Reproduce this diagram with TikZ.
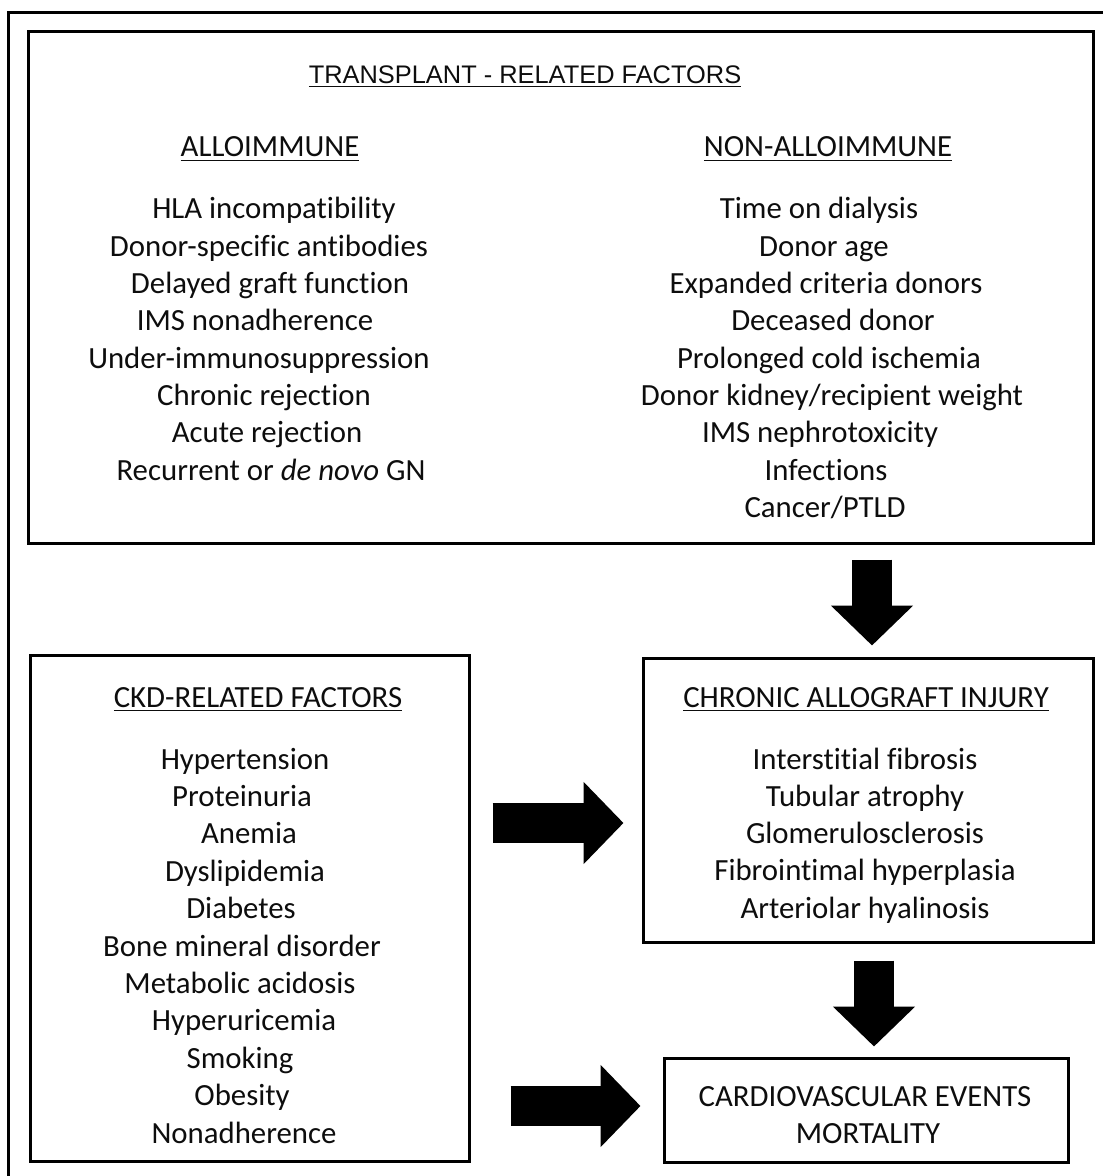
\documentclass[tikz,border=0pt]{standalone}
\usepackage{fontspec}
\setmainfont{Carlito}[Ligatures=NoCommon]
\newfontfamily\arialfont{Liberation Sans}
\usetikzlibrary{
	arrows.meta,
	calc,
	positioning,
	}

\newcommand{\hdr}[1]{\underline{#1}}

\begin{document}
\begin{tikzpicture}[x=0.5pt,y=-0.5pt,
	every node/.style={font=\fontsize{15.4}{18}\selectfont, text=black!95},
	box/.style={draw, line width=1.5pt, inner sep=0pt},
	item/.style={anchor=base, inner sep=0pt},
	fat/.style={line width=20pt, -{Triangle[length=20pt,width=40pt]}}]

	\useasboundingbox (0,0) rectangle (1102,1176);
	\draw[line width=1.5pt] (8,1190) -- (8,13) -- (1115,13);

	% boxes
	\node[box, minimum width=532.5pt, minimum height=255.5pt] (tr) at (560.5,287.5) {};
	\node[box, minimum width=219.5pt, minimum height=253pt] (ckd) at (249.5,908) {};
	\node[box, minimum width=225pt, minimum height=142pt] (cai) at (868,800) {};
	\node[box, minimum width=202pt, minimum height=52pt] (cve) at (866,1110) {};

	% headings
	\node[item, font=\arialfont\fontsize{12.7}{16}\selectfont] (h0) at (525,83.5) {\hdr{TRANSPLANT - RELATED FACTORS}};
	\node[item] (h1) at (270,157) {\hdr{ALLOIMMUNE}};
	\node[item] (h2) at (828,157) {\hdr{NON-ALLOIMMUNE}};
	\node[item] (h3) at (258,707) {\hdr{CKD-RELATED FACTORS}};
	\node[item] (h4) at (866,707) {\hdr{CHRONIC ALLOGRAFT INJURY}};

	% lists
	\foreach \x/\t [count=\i] in {274/HLA incompatibility, 269/Donor-specific antibodies,
		270/Delayed graft function, 255/IMS nonadherence, 259/Under-immunosuppression,
		264/Chronic rejection, 267/Acute rejection, 271/{Recurrent or \textit{de novo} GN}}
		\node[item] (al\i) at (\x,{219+37.3*(\i-1)}) {\t};
	\foreach \x/\t [count=\i] in {819/Time on dialysis, 824/Donor age, 826/Expanded criteria donors,
		833/Deceased donor, 829/Prolonged cold ischemia, 832/{Donor kidney/recipient weight},
		820/IMS nephrotoxicity, 826/Infections, 825/{Cancer/PTLD}}
		\node[item] (na\i) at (\x,{219+37.3*(\i-1)}) {\t};
	\foreach \x/\t [count=\i] in {245/Hypertension, 242/Proteinuria, 249/Anemia, 245/Dyslipidemia,
		241/Diabetes, 242/Bone mineral disorder, 240/Metabolic acidosis, 244/Hyperuricemia,
		240/Smoking, 242/Obesity, 244/Nonadherence}
		\node[item] (ck\i) at (\x,{769+37.4*(\i-1)}) {\t};
	\foreach \t [count=\i] in {Interstitial fibrosis, Tubular atrophy,
		Glomerulosclerosis, Fibrointimal hyperplasia, Arteriolar hyalinosis}
		\node[item] (ca\i) at (865,{769+37.3*(\i-1)}) {\t};
	\node[item] (cv1) at (865,1106) {CARDIOVASCULAR EVENTS};
	\node[item] (cv2) at (868,1143) {MORTALITY};

	% block arrows
	\draw[fat, shorten <=7.5pt, shorten >=5.5pt] ([xshift=2pt]tr.south -| cai.north) -- ([xshift=2pt]cai.north);
	\draw[fat, shorten <=8.5pt, shorten >=5pt] ([xshift=3pt]cai.south) -- ([xshift=3pt]cai.south |- cve.north);
	\draw[fat, shorten <=11pt, shorten >=9pt] ([yshift=-11.5pt]cai.west -| ckd.east) -- ([yshift=-11.5pt]cai.west);
	\draw[fat, shorten <=20pt, shorten >=11pt] ([yshift=2pt]cve.west -| ckd.east) -- ([yshift=2pt]cve.west);
\end{tikzpicture}
\end{document}
